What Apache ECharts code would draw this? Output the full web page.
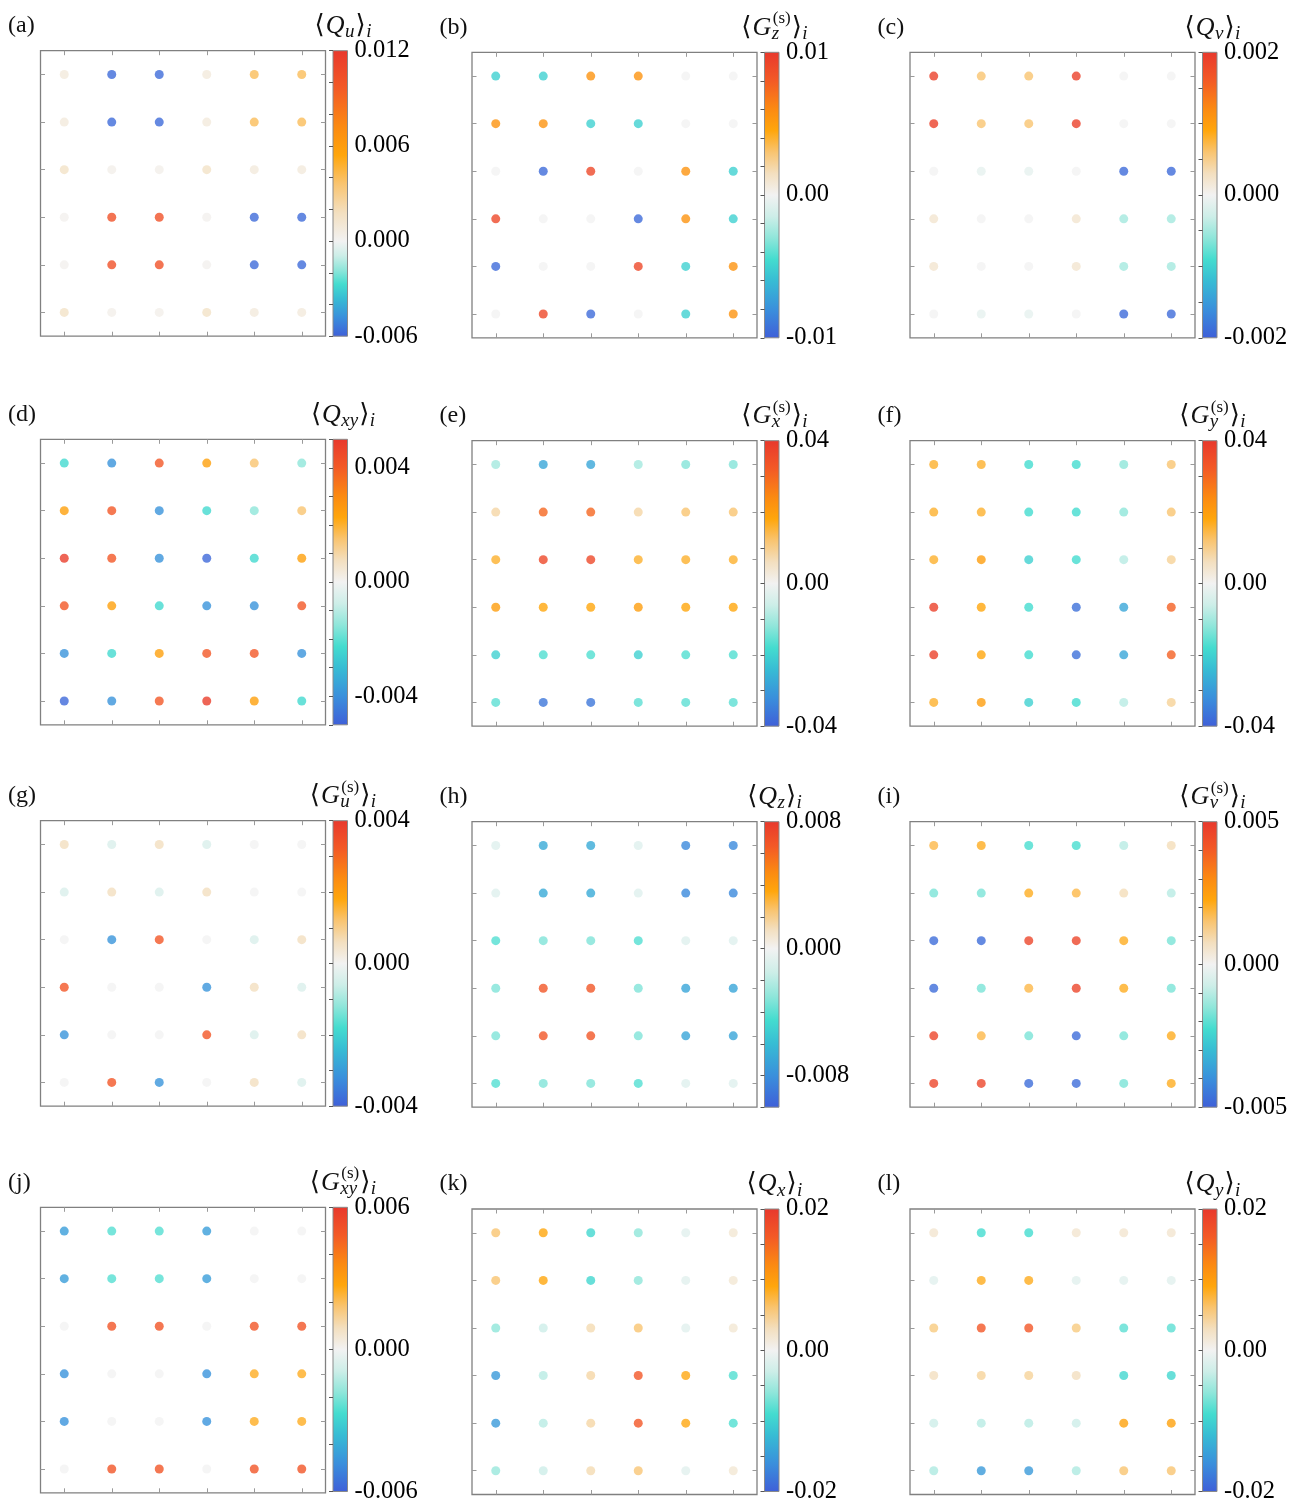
<!DOCTYPE html>
<html>
<head>
<meta charset="utf-8">
<script src="https://cdn.jsdelivr.net/npm/echarts@6/dist/echarts.min.js"></script>
<style>
html,body{margin:0;padding:0;background:#fff;}
#chart{width:1299px;height:1504px;}
</style>
</head>
<body>
<div id="chart"></div>
<script>
// Site expectation values on the 6x6 cluster, rows listed top to bottom.
const qu = [
  [0.0008, -0.0057, -0.0057, 0.0008, 0.0040, 0.0040],
  [0.0008, -0.0057, -0.0057, 0.0008, 0.0040, 0.0040],
  [0.0015, 0.0003, 0.0003, 0.0015, 0.0008, 0.0008],
  [0.0002, 0.0102, 0.0102, 0.0002, -0.0057, -0.0057],
  [0.0002, 0.0102, 0.0102, 0.0002, -0.0057, -0.0057],
  [0.0015, 0.0003, 0.0003, 0.0015, 0.0008, 0.0008]
];
const gzs = [
  [-0.0050, -0.0050, 0.0055, 0.0055, 0.0000, 0.0000],
  [0.0055, 0.0055, -0.0050, -0.0050, 0.0000, 0.0000],
  [0.0000, -0.0095, 0.0090, 0.0000, 0.0055, -0.0050],
  [0.0090, 0.0000, 0.0000, -0.0095, 0.0055, -0.0050],
  [-0.0095, 0.0000, 0.0000, 0.0090, -0.0050, 0.0055],
  [0.0000, 0.0090, -0.0095, 0.0000, -0.0050, 0.0055]
];
const qv = [
  [0.0019, 0.0006, 0.0006, 0.0019, 0.0000, 0.0000],
  [0.0019, 0.0006, 0.0006, 0.0019, 0.0000, 0.0000],
  [0.0000, -0.0001, -0.0001, 0.0000, -0.0019, -0.0019],
  [0.0002, 0.0000, 0.0000, 0.0002, -0.0005, -0.0005],
  [0.0002, 0.0000, 0.0000, 0.0002, -0.0005, -0.0005],
  [0.0000, -0.0001, -0.0001, 0.0000, -0.0019, -0.0019]
];
const qxy = [
  [-0.0023, -0.0039, 0.0041, 0.0024, 0.0015, -0.0015],
  [0.0024, 0.0041, -0.0039, -0.0023, -0.0015, 0.0015],
  [0.0048, 0.0041, -0.0039, -0.0048, -0.0023, 0.0024],
  [0.0041, 0.0024, -0.0023, -0.0039, -0.0039, 0.0041],
  [-0.0039, -0.0023, 0.0024, 0.0041, 0.0041, -0.0039],
  [-0.0048, -0.0039, 0.0041, 0.0048, 0.0024, -0.0023]
];
const gxs = [
  [-0.010, -0.028, -0.028, -0.010, -0.013, -0.013],
  [0.008, 0.030, 0.030, 0.008, 0.012, 0.012],
  [0.016, 0.036, 0.036, 0.016, 0.016, 0.016],
  [0.020, 0.018, 0.018, 0.020, 0.018, 0.018],
  [-0.020, -0.017, -0.017, -0.020, -0.017, -0.017],
  [-0.016, -0.036, -0.036, -0.016, -0.016, -0.016]
];
const gys = [
  [0.016, 0.016, -0.018, -0.018, -0.012, 0.012],
  [0.016, 0.016, -0.018, -0.018, -0.012, 0.012],
  [0.016, 0.020, -0.020, -0.018, -0.008, 0.009],
  [0.038, 0.018, -0.018, -0.037, -0.028, 0.031],
  [0.038, 0.018, -0.018, -0.037, -0.028, 0.031],
  [0.016, 0.020, -0.020, -0.018, -0.008, 0.009]
];
const gus = [
  [0.0006, -0.0004, 0.0006, -0.0004, 0.0000, 0.0000],
  [-0.0004, 0.0006, -0.0004, 0.0006, 0.0000, 0.0000],
  [0.0000, -0.0031, 0.0033, 0.0000, -0.0004, 0.0006],
  [0.0033, 0.0000, 0.0000, -0.0031, 0.0006, -0.0004],
  [-0.0031, 0.0000, 0.0000, 0.0033, -0.0004, 0.0006],
  [0.0000, 0.0033, -0.0031, 0.0000, 0.0006, -0.0004]
];
const qz = [
  [-0.0008, -0.0068, -0.0068, -0.0008, -0.0082, -0.0082],
  [-0.0008, -0.0068, -0.0068, -0.0008, -0.0082, -0.0082],
  [-0.0042, -0.0033, -0.0033, -0.0042, -0.0008, -0.0008],
  [-0.0033, 0.0066, 0.0066, -0.0033, -0.0070, -0.0070],
  [-0.0033, 0.0066, 0.0066, -0.0033, -0.0070, -0.0070],
  [-0.0042, -0.0033, -0.0033, -0.0042, -0.0008, -0.0008]
];
const gvs = [
  [0.0018, 0.0021, -0.0022, -0.0022, -0.0010, 0.0008],
  [-0.0017, -0.0017, 0.0021, 0.0018, 0.0008, -0.0010],
  [-0.0047, -0.0047, 0.0046, 0.0046, 0.0021, -0.0017],
  [-0.0047, -0.0017, 0.0018, 0.0046, 0.0021, -0.0017],
  [0.0046, 0.0018, -0.0017, -0.0047, -0.0017, 0.0021],
  [0.0046, 0.0046, -0.0047, -0.0047, -0.0017, 0.0021]
];
const gxys = [
  [-0.0044, -0.0025, -0.0025, -0.0044, 0.0000, 0.0000],
  [-0.0044, -0.0025, -0.0025, -0.0044, 0.0000, 0.0000],
  [0.0000, 0.0050, 0.0050, 0.0000, 0.0050, 0.0050],
  [-0.0047, 0.0000, 0.0000, -0.0047, 0.0025, 0.0025],
  [-0.0047, 0.0000, 0.0000, -0.0047, 0.0025, 0.0025],
  [0.0000, 0.0050, 0.0050, 0.0000, 0.0050, 0.0050]
];
const qx = [
  [0.0060, 0.0090, -0.0095, -0.0060, -0.0014, 0.0018],
  [0.0060, 0.0090, -0.0095, -0.0060, -0.0014, 0.0018],
  [-0.0060, -0.0030, 0.0035, 0.0060, -0.0014, 0.0018],
  [-0.0150, -0.0040, 0.0040, 0.0165, 0.0088, -0.0085],
  [-0.0150, -0.0040, 0.0040, 0.0165, 0.0088, -0.0085],
  [-0.0055, -0.0030, 0.0035, 0.0058, -0.0014, 0.0018]
];
const qy = [
  [0.0020, -0.0090, -0.0090, 0.0020, 0.0020, 0.0020],
  [-0.0014, 0.0085, 0.0085, -0.0014, -0.0014, -0.0014],
  [0.0054, 0.0165, 0.0165, 0.0054, -0.0080, -0.0080],
  [0.0030, 0.0044, 0.0044, 0.0030, -0.0095, -0.0095],
  [-0.0030, -0.0040, -0.0040, -0.0030, 0.0095, 0.0095],
  [-0.0045, -0.0150, -0.0150, -0.0045, 0.0060, 0.0060]
];

// Colour-bar ranges, tick steps and labelled ticks.
const panelTags = ['(a)','(b)','(c)','(d)','(e)','(f)','(g)','(h)','(i)','(j)','(k)','(l)'];
const panelValues = [qu, gzs, qv, qxy, gxs, gys, gus, qz, gvs, gxys, qx, qy];
const rangeMin = [-0.006, -0.01, -0.002, -0.005, -0.04, -0.04, -0.004, -0.01, -0.005, -0.006, -0.02, -0.02];
const rangeMax = [0.012, 0.01, 0.002, 0.005, 0.04, 0.04, 0.004, 0.008, 0.005, 0.006, 0.02, 0.02];
const tickStep = [0.002, 0.002, 0.0005, 0.001, 0.01, 0.01, 0.001, 0.002, 0.001, 0.002, 0.005, 0.005];
const tickLabels = [
  [0.012, 0.006, 0, -0.006],
  [0.01, 0, -0.01],
  [0.002, 0, -0.002],
  [0.004, 0, -0.004],
  [0.04, 0, -0.04],
  [0.04, 0, -0.04],
  [0.004, 0, -0.004],
  [0.008, 0, -0.008],
  [0.005, 0, -0.005],
  [0.006, 0, -0.006],
  [0.02, 0, -0.02],
  [0.02, 0, -0.02]
];
const labelDigits = [3, 2, 3, 3, 2, 2, 3, 3, 3, 3, 2, 2];
// Colour-bar titles: <base^sup_sub>_i
const titleBase = ['Q','G','Q','Q','G','G','G','Q','G','G','Q','Q'];
const titleSub  = ['u','z','v','xy','x','y','u','z','v','xy','x','y'];
const titleSup  = ['','(s)','','','(s)','(s)','(s)','','(s)','(s)','',''];

// ---- layout ----
const colLeft = [40.5, 472, 910];
const rowTop = [[50.7, 52.3, 52.3], [439.3, 440.7, 440.7], [820.7, 821.7, 821.7], [1207.3, 1209, 1209]];
const FW = 285, FH = 285.5, CB_GAP = 7.5, CB_W = 14.5;
const SERIF = '"Liberation Serif","DejaVu Serif",serif';

// ---- diverging colour map: white at zero, each side scaled to its own extreme ----
const NEG = [[0,'#f2f2f2'],[0.15,'#cdeee8'],[0.3,'#8fe6da'],[0.45,'#44dccf'],[0.6,'#37bcd4'],[0.8,'#3a8fdc'],[1,'#3f5fd8']];
const POS = [[0,'#f2f2f2'],[0.15,'#f3dfbf'],[0.3,'#f9c470'],[0.45,'#ffa60c'],[0.6,'#fb8a12'],[0.8,'#f35a26'],[1,'#e8382d']];

function hex2rgb(h){ return [parseInt(h.slice(1,3),16), parseInt(h.slice(3,5),16), parseInt(h.slice(5,7),16)]; }
function interp(stops, t){
  t = Math.max(0, Math.min(1, t));
  for (let k = 1; k < stops.length; k++) {
    if (t <= stops[k][0]) {
      const [t0, c0] = stops[k-1], [t1, c1] = stops[k];
      const f = (t - t0) / (t1 - t0);
      const a = hex2rgb(c0), b = hex2rgb(c1);
      return 'rgb(' + a.map((x, j) => Math.round(x + (b[j] - x) * f)).join(',') + ')';
    }
  }
  return stops[stops.length-1][1];
}
function colorAt(v, min, max){
  return v >= 0 ? interp(POS, v / max) : interp(NEG, v / min);
}
function sampleColors(min, max){
  const n = 161, out = [];
  for (let k = 0; k < n; k++) out.push(colorAt(min + (max - min) * k / (n - 1), min, max));
  return out;
}
function gradientStops(min, max){
  const span = max - min, stops = [];
  NEG.forEach(([t, c]) => stops.push({offset: (-min) * (1 - t) / span, color: c}));
  POS.forEach(([t, c]) => stops.push({offset: (t * max - min) / span, color: c}));
  stops.sort((a, b) => a.offset - b.offset);
  return stops;
}

const cats = ['1','2','3','4','5','6'];
function cells(rows){
  const out = [];
  rows.forEach((row, r) => row.forEach((v, c) => out.push([c, r, v])));
  return out;
}
function frameAxis(gridIndex, position, inverse){
  return {
    gridIndex, type: 'category', data: cats, position, inverse: !!inverse,
    boundaryGap: true,
    axisLine: {show: false},
    axisLabel: {show: false, interval: 0},
    axisTick: {show: true, inside: true, alignWithLabel: true, interval: 0, length: 4.5,
               lineStyle: {color: '#9a9a9a', width: 1}},
    splitLine: {show: false}
  };
}

// text measuring for the colour-bar titles
const mctx = document.createElement('canvas').getContext('2d');
function tw(font, s){ mctx.font = font; return mctx.measureText(s).width; }
function txt(x, baseline, s, size, italic){
  const font = (italic ? 'italic ' : '') + size + 'px ' + SERIF;
  return {type: 'text', x: x, y: baseline - 0.34 * size,
          style: {text: s, font: font, fill: '#111', align: 'left', verticalAlign: 'middle'}, silent: true};
}

const grid = [], xAxis = [], yAxis = [], series = [], visualMap = [], graphic = [];

panelValues.forEach((vals, i) => {
  const r = Math.floor(i / 3), c = i % 3;
  const L = colLeft[c], T = rowTop[r][c];
  const min = rangeMin[i], max = rangeMax[i];

  // plot frame with inward ticks on all four sides
  const g = grid.length;
  grid.push({left: L, top: T, width: FW, height: FH, show: true,
             borderColor: '#808080', borderWidth: 1.3, backgroundColor: 'transparent'});
  const xb = xAxis.length;
  xAxis.push(frameAxis(g, 'bottom'), frameAxis(g, 'top'));
  const yl = yAxis.length;
  yAxis.push(frameAxis(g, 'left', true), frameAxis(g, 'right', true));

  // colour bar
  const cg = grid.length;
  const cbLeft = L + FW + CB_GAP;
  grid.push({left: cbLeft, top: T, width: CB_W, height: FH, show: false});
  const cx = xAxis.length;
  xAxis.push({gridIndex: cg, type: 'value', min: 0, max: 1, show: false});
  const cy = yAxis.length;
  const marks = tickLabels[i], step = tickStep[i], digits = labelDigits[i];
  yAxis.push({
    gridIndex: cg, type: 'value', min: min, max: max, interval: step, position: 'right', z: 5,
    axisLine: {show: false}, splitLine: {show: false},
    axisTick: {show: true, inside: true, length: 4, lineStyle: {color: '#555', width: 1}},
    axisLabel: {
      show: true, margin: 7, fontSize: 24.5, fontFamily: SERIF, color: '#000',
      showMinLabel: true, showMaxLabel: true,
      formatter: v => {
        const m = marks.find(k => Math.abs(k - v) < step * 1e-3);
        return m === undefined ? '' : m.toFixed(digits);
      }
    }
  });

  const si = series.length;
  series.push({
    type: 'scatter', xAxisIndex: xb, yAxisIndex: yl, symbol: 'circle', symbolSize: 9,
    data: cells(vals), silent: true, z: 3
  });
  visualMap.push({type: 'continuous', show: false, seriesIndex: si, dimension: 2,
                  min: min, max: max, inRange: {color: sampleColors(min, max)}});

  const grad = new echarts.graphic.LinearGradient(0, 1, 0, 0, gradientStops(min, max));
  series.push({
    type: 'custom', xAxisIndex: cx, yAxisIndex: cy, silent: true, z: 2,
    data: [[0, min]],
    renderItem: (params, api) => {
      const a = api.coord([0, max]), b = api.coord([1, min]);
      return {type: 'rect', shape: {x: a[0], y: a[1], width: b[0] - a[0], height: b[1] - a[1]},
              style: {fill: grad, stroke: '#8a8a8a', lineWidth: 1}};
    }
  });

  // panel tag
  graphic.push({type: 'text', x: L - 32.5, y: T - 25, silent: true,
                style: {text: panelTags[i], font: '24px ' + SERIF, fill: '#111', align: 'left', verticalAlign: 'middle'}});

  // colour-bar title  < base ^sup _sub >_i
  const base = titleBase[i], sub = titleSub[i], sup = titleSup[i];
  const BIG = 26, SUB = 19, SUP = 17;
  const parts = [];
  let x = 0;
  parts.push(['\u27E8', x, 0, BIG, false]); x += tw(BIG + 'px ' + SERIF, '\u27E8') + 1;
  parts.push([base, x, 0, BIG, true]); x += tw('italic ' + BIG + 'px ' + SERIF, base) + 0.5;
  const wSub = tw('italic ' + SUB + 'px ' + SERIF, sub);
  let wScript = wSub;
  parts.push([sub, x, 3.5, SUB, true]);
  if (sup) {
    parts.push([sup, x + 1, -12, SUP, false]);
    wScript = Math.max(wSub, tw(SUP + 'px ' + SERIF, sup) + 1);
  }
  x += wScript + 1;
  parts.push(['\u27E9', x, 0, BIG, false]); x += tw(BIG + 'px ' + SERIF, '\u27E9') + 0.5;
  parts.push(['i', x, 3.5, SUB, true]); x += tw('italic ' + SUB + 'px ' + SERIF, 'i');
  const x0 = cbLeft + 10 - x / 2, base0 = T - 15.5;
  parts.forEach(([s, px, dy, size, it]) => graphic.push(txt(x0 + px, base0 + dy, s, size, it)));
});

const chart = echarts.init(document.getElementById('chart'), null, {renderer: 'canvas'});
chart.setOption({
  animation: false,
  backgroundColor: '#ffffff',
  grid, xAxis, yAxis, visualMap, series, graphic
});
</script>
</body>
</html>
